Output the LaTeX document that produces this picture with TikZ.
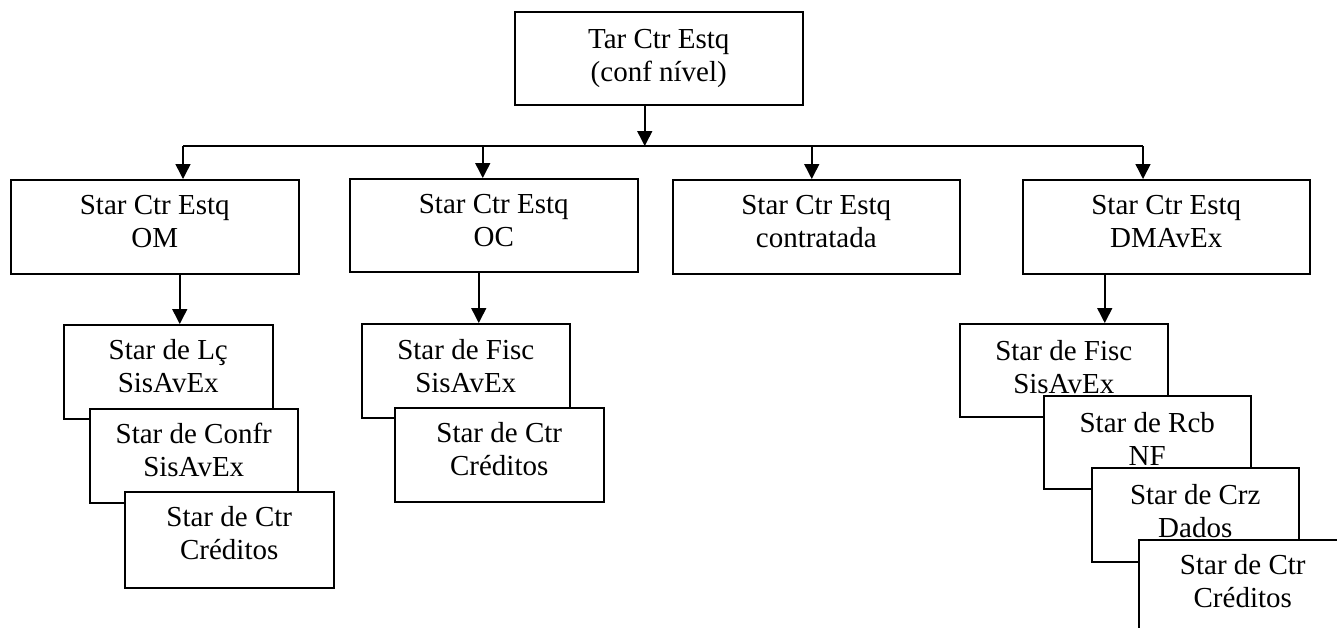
\documentclass[tikz,border=0pt]{standalone}
\usepackage{fontspec}
\setmainfont{Liberation Serif}
\usetikzlibrary{arrows.meta}
\tikzset{
  box/.style={draw, line width=1.5pt, fill=white, inner sep=0pt, anchor=north west},
  big/.style={box, minimum width=288pt, minimum height=94pt},
  small/.style={box, minimum width=209pt, minimum height=94pt},
  txt/.style={align=center, inner sep=0pt, anchor=north, font=\fontsize{29}{33}\selectfont},
  link/.style={line width=1.5pt},
  arr/.style={link, -{Triangle[length=15pt,width=15pt]}},
}
\begin{document}
\begin{tikzpicture}[x=1pt, y=-1pt]
\useasboundingbox (0,0) rectangle (1337,627);
\clip (0,0) rectangle (1337,627);

% root
\node[big, minimum height=93pt] (top) at (514,11) {};
\node[txt] (t-top) at ([yshift=-14.5pt]top.north) {\strut Tar Ctr Estq\\(conf nível)};

% second level
\node[big] (om) at (10,179) {};
\node[txt] (t-om) at ([yshift=-12.5pt]om.north) {\strut Star Ctr Estq\\OM};
\node[big, minimum height=93pt] (oc) at (349,178) {};
\node[txt] (t-oc) at ([yshift=-12.5pt]oc.north) {\strut Star Ctr Estq\\OC};
\node[big, minimum width=287pt] (ct) at (672,179) {};
\node[txt] (t-ct) at ([yshift=-12.5pt]ct.north) {\strut Star Ctr Estq\\contratada};
\node[big, minimum width=287pt] (dm) at (1022,179) {};
\node[txt] (t-dm) at ([yshift=-12.5pt]dm.north) {\strut Star Ctr Estq\\DMAvEx};

% OM stack
\node[small] (omA) at (63,324) {};
\node[txt] (t-omA) at ([yshift=-12pt]omA.north) {\strut Star de Lç\\SisAvEx};
\node[small, minimum width=208pt] (omB) at (89,408) {};
\node[txt] (t-omB) at ([yshift=-12pt]omB.north) {\strut Star de Confr\\SisAvEx};
\node[small, minimum height=96pt] (omC) at (124,491) {};
\node[txt] (t-omC) at ([yshift=-12pt]omC.north) {\strut Star de Ctr\\Créditos};

% OC stack
\node[small, minimum width=208pt] (ocA) at (361,323) {};
\node[txt] (t-ocA) at ([yshift=-13pt]ocA.north) {\strut Star de Fisc\\SisAvEx};
\node[small] (ocB) at (394,407) {};
\node[txt] (t-ocB) at ([yshift=-12pt]ocB.north) {\strut Star de Ctr\\Créditos};

% DMAvEx stack (each box hides the foot of the text above it)
\node[small, minimum width=208pt, minimum height=93pt] (dmA) at (959,323) {};
\node[txt] (t-dmA) at ([yshift=-14pt]dmA.north) {\strut Star de Fisc\\SisAvEx};
\node[small, minimum width=207pt, minimum height=93pt] (dmB) at (1043,395) {};
\node[txt] (t-dmB) at ([yshift=-14pt]dmB.north) {\strut Star de Rcb\\NF};
\node[small, minimum width=207pt] (dmC) at (1091,467) {};
\node[txt] (t-dmC) at ([yshift=-14pt]dmC.north) {\strut Star de Crz\\Dados};
\node[small, minimum width=208pt] (dmD) at (1138,539) {};
\node[txt] (t-dmD) at ([yshift=-12.5pt]dmD.north) {\strut Star de Ctr\\Créditos};

% distribution bus
\coordinate (busL) at (183,146);
\coordinate (busR) at (1143,146);
\draw[link] (busL) -- (busR);

\coordinate (r0) at ([xshift=-14pt]top.south);
\draw[arr] (r0) -- (r0 |- busL);
\draw[arr] (busL) -- (busL |- om.north);
\coordinate (r2) at ([xshift=-11pt]oc.north);
\draw[arr] (r2 |- busL) -- (r2);
\coordinate (r3) at ([xshift=-4.5pt]ct.north);
\draw[arr] (r3 |- busL) -- (r3);
\draw[arr] (busR) -- (busR |- dm.north);

% links to the stacks
\coordinate (d1) at ([xshift=25pt]om.south);
\draw[arr] (d1) -- (d1 |- omA.north);
\coordinate (d2) at ([xshift=-15pt]oc.south);
\draw[arr] (d2) -- (d2 |- ocA.north);
\coordinate (d3) at ([xshift=-61.5pt]dm.south);
\draw[arr] (d3) -- (d3 |- dmA.north);
\end{tikzpicture}
\end{document}
